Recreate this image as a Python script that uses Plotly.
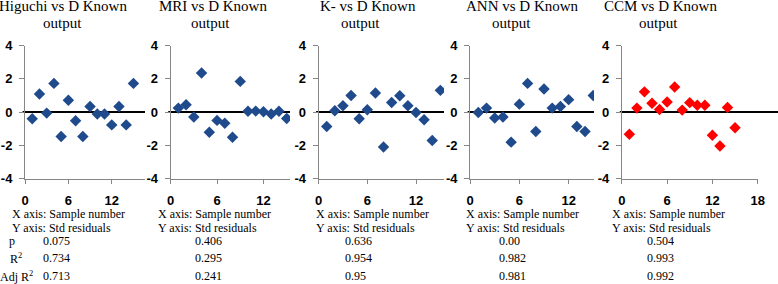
import plotly.graph_objects as go

W, H = 778, 284

sample = list(range(1, 16))
higuchi = [-0.40, 1.09, -0.06, 1.73, -1.47, 0.71, -0.52, -1.47, 0.34, -0.12, -0.12, -0.77, 0.34, -0.77, 1.73]
mri = [0.24, 0.44, -0.30, 2.36, -1.21, -0.50, -0.67, -1.51, 1.85, 0.05, 0.06, 0.02, -0.12, 0.05, -0.38]
kminus = [-0.87, 0.08, 0.38, 1.00, -0.40, 0.14, 1.15, -2.10, 0.58, 0.99, 0.38, -0.02, -0.46, -1.71, 1.31]
ann = [-0.02, 0.24, -0.36, -0.30, -1.81, 0.48, 1.73, -1.17, 1.39, 0.24, 0.34, 0.75, -0.87, -1.17, 1.00]
ccm = [-1.34, 0.24, 1.22, 0.53, 0.16, 0.61, 1.51, 0.12, 0.57, 0.41, 0.41, -1.39, -2.04, 0.28, -0.94]

titles = ["Higuchi vs D Known", "MRI vs D Known", "K- vs D Known", "ANN vs D Known", "CCM vs D Known"]
subtitle = "output"
p_vals = ["0.075", "0.406", "0.636", "0.00", "0.504"]
r2_vals = ["0.734", "0.295", "0.954", "0.982", "0.993"]
adj_r2_vals = ["0.713", "0.241", "0.95", "0.981", "0.992"]
row_labels = ["p", "R<sup>2</sup>", "Adj R<sup>2</sup>"]
x_ticks = [0, 6, 12, 18]
y_ticks = [-4, -2, 0, 2, 4]
y_tick_labels = ["-4", "-2", "0", "2", "4"]

series = [higuchi, mri, kminus, ann, ccm]
colors = ["#1F4A8C", "#1F4A8C", "#1F4A8C", "#1F4A8C", "#FF0000"]

# layout geometry (pixels)
x_dom_px = [(25, 145), (170.6, 290), (318.6, 444), (470.1, 594), (621.8, 757.7)]
x_max = [16.6, 15.43, 15.45, 15.09, 18]
y_top_px, y_bot_px = 45.7, 178.5
title1_cx = [63, 213, 368, 522, 660]
title2_cx = [63, 210, 360, 512, 658]
text_left = [10, 156, 314, 464, 610]
val_left = [40.7, 193.3, 343.3, 496.7, 645]

def px(x):
    return x / W

def py(y):
    return 1 - y / H

fig = go.Figure()
layout = dict(
    width=W, height=H,
    margin=dict(l=0, r=0, t=0, b=0, autoexpand=False),
    paper_bgcolor="white", plot_bgcolor="white",
    showlegend=False,
)
shapes = []
annotations = []
tickfont = dict(family="Liberation Sans", size=13, color="black", weight="bold")
serif = "Liberation Serif"

for i in range(5):
    n = i + 1
    xa = "x" if n == 1 else f"x{n}"
    ya = "y" if n == 1 else f"y{n}"
    fig.add_trace(go.Scatter(
        x=sample, y=series[i], mode="markers", xaxis=xa, yaxis=ya,
        marker=dict(symbol="diamond", size=8.8, color=colors[i], line=dict(width=0)),
    ))
    d0, d1 = x_dom_px[i]
    layout["xaxis" if n == 1 else f"xaxis{n}"] = dict(
        domain=[px(d0), px(d1)], range=[0, x_max[i]], anchor=ya, automargin=False,
        tickvals=[t for t in x_ticks if t <= x_max[i]],
        showgrid=False, zeroline=False, showline=True, linecolor="#868686", linewidth=1,
        ticks="outside", ticklen=4, tickcolor="#868686", tickfont=tickfont,
        ticklabelstandoff=6,
    )
    layout["yaxis" if n == 1 else f"yaxis{n}"] = dict(
        domain=[py(y_bot_px), py(y_top_px)], range=[-4, 4], anchor=xa, automargin=False,
        tickvals=y_ticks, ticktext=y_tick_labels, showgrid=False, zeroline=False,
        showline=True, linecolor="#868686", linewidth=1,
        ticks="outside", ticklen=5, tickcolor="#868686", tickfont=tickfont,
        ticklabelstandoff=4,
    )
    # zero reference line
    if n < 5:
        shapes.append(dict(type="line", xref=f"{xa} domain", yref=ya, x0=-0.02, x1=1,
                           y0=0, y1=0, line=dict(color="black", width=2), layer="below"))
    else:
        shapes.append(dict(type="line", xref="paper", yref=ya, x0=px(d0 - 2), x1=1,
                           y0=0, y1=0, line=dict(color="black", width=2), layer="below"))
    # titles
    annotations.append(dict(text=titles[i], xref="paper", yref="paper",
                            x=px(title1_cx[i]), y=py(6), xanchor="center", yanchor="middle",
                            showarrow=False, font=dict(family=serif, size=15, color="black")))
    annotations.append(dict(text=subtitle, xref="paper", yref="paper",
                            x=px(title2_cx[i]), y=py(23), xanchor="center", yanchor="middle",
                            showarrow=False, font=dict(family=serif, size=15, color="black")))
    # axis description text
    for txt, yy in [("X axis: Sample number", 214), ("Y axis: Std residuals", 228)]:
        annotations.append(dict(text=txt, xref="paper", yref="paper",
                                x=px(text_left[i]), y=py(yy), xanchor="left", yanchor="middle",
                                showarrow=False, font=dict(family=serif, size=12, color="black")))
    for val, yy in [(p_vals[i], 241), (r2_vals[i], 258), (adj_r2_vals[i], 276)]:
        annotations.append(dict(text=val, xref="paper", yref="paper",
                                x=px(val_left[i]), y=py(yy), xanchor="left", yanchor="middle",
                                showarrow=False, font=dict(family=serif, size=12, color="black")))

# row labels (only at the left)
for lab, cx, yy in [(row_labels[0], 12, 241), (row_labels[1], 16, 258), (row_labels[2], 16.5, 276)]:
    annotations.append(dict(text=lab, xref="paper", yref="paper",
                            x=px(cx), y=py(yy), xanchor="center", yanchor="middle",
                            showarrow=False, font=dict(family=serif, size=12, color="black")))

layout["shapes"] = shapes
layout["annotations"] = annotations
fig.update_layout(**layout)
fig.write_html("out.html", config={"displayModeBar": False},
               post_script="document.body.style.margin='0';document.body.style.overflow='hidden';")
